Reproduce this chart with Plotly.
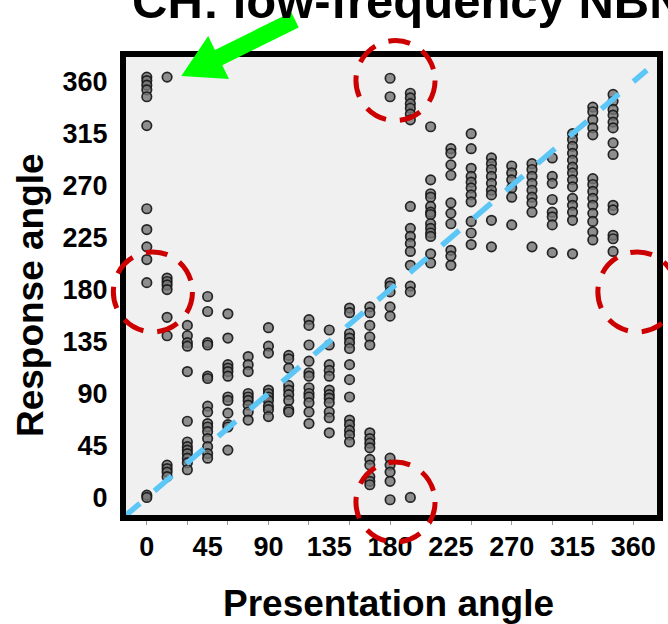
import math
import plotly.graph_objects as go

# Presentation angles (deg) and the response angles recorded at each one
presentation_angles = [0, 15, 30, 45, 60, 75, 90, 105, 120, 135, 150, 165,
                       180, 195, 210, 225, 240, 255, 270, 285, 300, 315, 330, 345]

resp_000 = [364, 361, 357, 353, 347, 322, 250, 232, 217, 206, 186, 2, 0]
resp_015 = [364, 190, 187, 184, 180, 156, 140, 28, 25, 22, 18]
resp_030 = [149, 140, 134, 131, 109, 66, 48, 44, 41, 38, 34, 30, 24]
resp_045 = [174, 161, 134, 132, 105, 103, 79, 74, 64, 61, 57, 51, 44, 38, 34]
resp_060 = [159, 138, 115, 112, 109, 105, 87, 84, 73, 63, 61, 41]
resp_075 = [122, 115, 109, 90, 87, 84, 80, 74, 67]
resp_090 = [147, 131, 125, 93, 90, 87, 84, 79, 76, 70]
resp_105 = [123, 120, 112, 97, 93, 89, 84, 76, 74]
resp_120 = [154, 149, 132, 118, 108, 105, 95, 90, 87, 82, 74, 64]
resp_135 = [145, 132, 115, 110, 105, 93, 89, 86, 82, 74, 69, 56]
resp_150 = [164, 160, 142, 138, 134, 129, 115, 102, 87, 67, 63, 58, 54, 48]
resp_165 = [165, 160, 149, 139, 132, 56, 51, 47, 43, 33, 28, 18, 14, 11]
resp_180 = [363, 347, 186, 183, 178, 165, 157, 34, 28, 22, 14, -2]
resp_195 = [350, 346, 341, 337, 332, 327, 252, 233, 226, 220, 213, 201, 183, 178, 0]
resp_210 = [321, 275, 263, 260, 252, 247, 245, 237, 233, 229, 226, 211, 203]
resp_225 = [302, 298, 288, 279, 255, 246, 237, 214, 209, 201]
resp_240 = [315, 302, 285, 278, 273, 268, 262, 256, 239, 229, 219]
resp_255 = [294, 289, 284, 278, 272, 266, 262, 240, 217]
resp_270 = [287, 281, 275, 268, 260, 236]
resp_285 = [289, 284, 278, 272, 266, 260, 255, 247, 217]
resp_300 = [294, 278, 272, 258, 247, 243, 236, 212]
resp_315 = [315, 310, 304, 298, 292, 286, 281, 275, 269, 259, 253, 247, 240, 211]
resp_330 = [338, 334, 327, 320, 314, 276, 271, 265, 259, 253, 246, 239, 230, 223]
resp_345 = [349, 343, 336, 331, 325, 320, 307, 297, 253, 249, 227, 224, 213]

responses = [resp_000, resp_015, resp_030, resp_045, resp_060, resp_075,
             resp_090, resp_105, resp_120, resp_135, resp_150, resp_165,
             resp_180, resp_195, resp_210, resp_225, resp_240, resp_255,
             resp_270, resp_285, resp_300, resp_315, resp_330, resp_345]

tick_values = [0, 45, 90, 135, 180, 225, 270, 315, 360]
tick_labels = ["0", "45", "90", "135", "180", "225", "270", "315", "360"]

# Identity line (response = presentation)
identity_span = [-18, 370]

# Regions highlighted with dashed circles (presentation, response)
circle_centres = [(184, 361), (4.5, 178), (184, -4), (363, 178)]
circle_radius_px = 40

# Arrow pointing at the early response near 360 deg
arrow_target = (25.5, 365)

title_text = "CH: low-frequency NBN"

# ---- figure geometry ----
W, H = 668, 624
M_L, M_R, M_T, M_B = 126, 5, 57, 109
X_RANGE = [-15.4, 377.5]
Y_RANGE = [-15.2, 381.4]
PW, PH = W - M_L - M_R, H - M_T - M_B


def data_to_px(xv, yv):
    px = M_L + (xv - X_RANGE[0]) / (X_RANGE[1] - X_RANGE[0]) * PW
    py = M_T + (Y_RANGE[1] - yv) / (Y_RANGE[1] - Y_RANGE[0]) * PH
    return px, py


def px_to_paper(px, py):
    return (px - M_L) / PW, (M_T + PH - py) / PH


xs, ys = [], []
for ang, vals in zip(presentation_angles, responses):
    xs.extend([ang] * len(vals))
    ys.extend(vals)

font_family = "Liberation Sans, Arial, sans-serif"

fig = go.Figure()
fig.add_trace(go.Scatter(
    x=xs, y=ys, mode="markers",
    marker=dict(size=9.5, color="rgba(118,118,118,0.8)",
                line=dict(color="rgba(20,20,20,0.9)", width=1.7)),
    hoverinfo="x+y", showlegend=False,
))
fig.add_trace(go.Scatter(
    x=identity_span, y=identity_span, mode="lines",
    line=dict(color="#5CC6F7", width=5.5, dash="23px,19px"),
    cliponaxis=False, hoverinfo="skip", showlegend=False,
))

shapes = []
for cx, cy in circle_centres:
    px, py = data_to_px(cx, cy)
    x0, y0 = px_to_paper(px - circle_radius_px, py + circle_radius_px)
    x1, y1 = px_to_paper(px + circle_radius_px, py - circle_radius_px)
    shapes.append(dict(type="circle", xref="paper", yref="paper",
                       x0=x0, y0=y0, x1=x1, y1=y1,
                       line=dict(color="#CC0000", width=5, dash="22px,14px"),
                       layer="above"))

# Green block arrow built in pixel space around its tip
tx, ty = data_to_px(*arrow_target)
ang = math.radians(26)
ux, uy = math.cos(ang), -math.sin(ang)
nx, ny = -uy, ux
head_len, head_half, shaft_half, total_len = 42, 24, 8.5, 128
bx, by = tx + head_len * ux, ty + head_len * uy
ex, ey = tx + total_len * ux, ty + total_len * uy
poly = [(tx, ty),
        (bx + head_half * nx, by + head_half * ny),
        (bx + shaft_half * nx, by + shaft_half * ny),
        (ex + shaft_half * nx, ey + shaft_half * ny),
        (ex - shaft_half * nx, ey - shaft_half * ny),
        (bx - shaft_half * nx, by - shaft_half * ny),
        (bx - head_half * nx, by - head_half * ny)]
pts = [px_to_paper(px, py) for px, py in poly]
path = "M " + " L ".join(f"{a:.5f},{b:.5f}" for a, b in pts) + " Z"
shapes.append(dict(type="path", xref="paper", yref="paper", path=path,
                   fillcolor="#00FF00", line=dict(width=0), layer="above"))

annotations = []
ax_, ay_ = px_to_paper(130, 30)
annotations.append(dict(text=title_text, x=ax_, y=ay_, xref="paper", yref="paper",
                        xanchor="left", yanchor="bottom", showarrow=False,
                        font=dict(family=font_family, size=49, color="black",
                                  weight="bold")))
xt, yt = px_to_paper(391, 603)
annotations.append(dict(text="Presentation angle", x=xt, y=yt, xref="paper",
                        yref="paper", xanchor="center", yanchor="middle",
                        showarrow=False,
                        font=dict(family=font_family, size=37, color="black",
                                  weight="bold")))
xt, yt = px_to_paper(29, 295)
annotations.append(dict(text="Response angle", x=xt, y=yt, xref="paper",
                        yref="paper", xanchor="center", yanchor="middle",
                        textangle=-90, showarrow=False,
                        font=dict(family=font_family, size=37, color="black",
                                  weight="bold")))

tick_font = dict(family=font_family, size=27, color="black", weight="bold")
fig.update_layout(
    width=W, height=H,
    margin=dict(l=M_L, r=M_R, t=M_T, b=M_B, pad=0),
    paper_bgcolor="white", plot_bgcolor="#F0F0F0",
    shapes=shapes, annotations=annotations,
    xaxis=dict(range=X_RANGE, showgrid=False, zeroline=False,
               showline=True, linecolor="black", linewidth=6, mirror=True,
               tickvals=tick_values, ticktext=tick_labels, ticks="",
               tickfont=tick_font, ticklabelstandoff=3,
               minor=dict(ticks="outside", dtick=30, tick0=0, ticklen=4,
                          tickcolor="#999999", tickwidth=1, showgrid=False)),
    yaxis=dict(range=Y_RANGE, showgrid=False, zeroline=False,
               showline=True, linecolor="black", linewidth=6, mirror=True,
               tickvals=tick_values, ticktext=tick_labels, ticks="",
               tickfont=tick_font, ticklabelstandoff=7),
)

fig.write_html("out.html")
